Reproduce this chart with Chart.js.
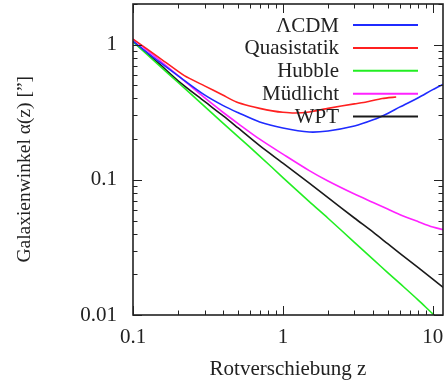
<!DOCTYPE html>
<html>
<head>
<meta charset="utf-8">
<script src="https://cdn.jsdelivr.net/npm/chart.js@4/dist/chart.umd.min.js"></script>
<style>
html,body{margin:0;padding:0;background:#fff;}
canvas{display:block;}
</style>
</head>
<body>
<canvas id="c" width="446" height="385"></canvas>
<script>
// ---- data ----
const zGrid = [0.1, 0.15, 0.2, 0.3, 0.4, 0.5, 0.7, 1, 1.5, 2, 3, 4, 5, 6, 8, 10, 12];
const lcdm     = [1.06, 0.745, 0.588, 0.425, 0.354, 0.315, 0.268, 0.242, 0.226, 0.23, 0.25, 0.278, 0.31, 0.345, 0.405, 0.465, 0.515];
const hubble   = [1.05, 0.70, 0.525, 0.35, 0.262, 0.21, 0.15, 0.104, 0.069, 0.052, 0.0345, 0.0258, 0.0206, 0.0172, 0.0129, 0.0102, 0.0085];
const muedlicht= [1.10, 0.77, 0.59, 0.405, 0.315, 0.262, 0.20, 0.155, 0.117, 0.098, 0.0785, 0.068, 0.0608, 0.0555, 0.049, 0.0447, 0.0426];
const wpt      = [1.06, 0.72, 0.54, 0.38, 0.297, 0.243, 0.179, 0.133, 0.0945, 0.0738, 0.0522, 0.041, 0.0337, 0.0287, 0.0224, 0.0184, 0.0157];
const zQuasi   = [0.1, 0.15, 0.22, 0.3, 0.4, 0.49, 0.6, 0.7, 0.85, 1.0, 1.2, 1.5, 2.0, 3.0, 3.6, 4.6, 5.7];
const quasi    = [1.10, 0.80, 0.59, 0.496, 0.422, 0.377, 0.352, 0.338, 0.324, 0.316, 0.312, 0.318, 0.338, 0.365, 0.377, 0.40, 0.41];
const seriesNames = ['ΛCDM', 'Quasistatik', 'Hubble', 'Müdlicht', 'WPT'];
const xTickValues = [0.1, 1, 10];
const yTickValues = [0.01, 0.1, 1];
const xLabel = 'Rotverschiebung z';
const yLabel = 'Galaxienwinkel α(z) [”]';

const colors = ['#1f2bff', '#ff2020', '#22ee22', '#ff22ff', '#1a1a1a'];
const FONT = "'Liberation Serif', 'Times New Roman', serif";
const TXT = '#222';

const pts = (zs, vs) => zs.map((z, i) => ({x: z, y: vs[i]}));
const seriesData = [pts(zGrid, lcdm), pts(zQuasi, quasi), pts(zGrid, hubble), pts(zGrid, muedlicht), pts(zGrid, wpt)];

const datasets = seriesNames.map((n, i) => ({
  label: n,
  data: seriesData[i],
  borderColor: colors[i],
  backgroundColor: colors[i],
  borderWidth: 1.6,
  pointRadius: 0,
  fill: false,
  tension: i === 1 ? 0.2 : 0.3
}));

function minorTicks(scale) {
  const out = [];
  for (let e = -3; e <= 2; e++) {
    const d = Math.pow(10, e);
    for (let m = 1; m <= 9; m++) {
      const v = m * d;
      if (v >= scale.min * 0.9999 && v <= scale.max * 1.0001) out.push({v: v, major: m === 1});
    }
  }
  return out;
}

const framePlugin = {
  id: 'frame',
  afterDatasetsDraw(chart) {
    const {ctx, chartArea: a, scales} = chart;
    const x = scales.x, y = scales.y;
    ctx.save();
    ctx.strokeStyle = '#222';
    ctx.lineWidth = 1;
    ctx.beginPath();
    minorTicks(x).forEach(t => {
      const px = Math.round(x.getPixelForValue(t.v)) + 0.5;
      const len = t.major ? 9 : 4.5;
      ctx.moveTo(px, a.bottom); ctx.lineTo(px, a.bottom - len);
      ctx.moveTo(px, a.top); ctx.lineTo(px, a.top + len);
    });
    minorTicks(y).forEach(t => {
      const py = Math.round(y.getPixelForValue(t.v)) + 0.5;
      const len = t.major ? 9 : 4.5;
      ctx.moveTo(a.left, py); ctx.lineTo(a.left + len, py);
      ctx.moveTo(a.right, py); ctx.lineTo(a.right - len, py);
    });
    ctx.stroke();
    ctx.lineWidth = 1.6;
    ctx.strokeRect(a.left, a.top, a.right - a.left, a.bottom - a.top);

    // key inside plot: text right-aligned, sample line on the right
    ctx.font = '21px ' + FONT;
    ctx.textAlign = 'right';
    ctx.textBaseline = 'middle';
    chart.data.datasets.forEach((ds, i) => {
      const yy = a.top + 21 + i * 22.9;
      ctx.fillStyle = TXT;
      ctx.fillText(ds.label, a.right - 104, yy + 1);
      ctx.strokeStyle = ds.borderColor;
      ctx.lineWidth = 2;
      ctx.beginPath();
      ctx.moveTo(a.right - 90, yy);
      ctx.lineTo(a.right - 25, yy);
      ctx.stroke();
    });
    ctx.restore();
  }
};

function zeroPad(s) { s.paddingTop = 0; s.paddingBottom = 0; s.paddingLeft = 0; s.paddingRight = 0; }

new Chart(document.getElementById('c'), {
  type: 'line',
  data: {datasets: datasets},
  plugins: [framePlugin],
  options: {
    responsive: false,
    animation: false,
    devicePixelRatio: 1,
    layout: {padding: {top: 4, right: 3, left: 0, bottom: 0}},
    plugins: {legend: {display: false}, tooltip: {enabled: false}},
    scales: {
      x: {
        type: 'logarithmic',
        min: 0.1, max: 11.7,
        afterBuildTicks: s => { s.ticks = xTickValues.map(v => ({value: v})); },
        afterFit: s => { s.height = 70; zeroPad(s); },
        grid: {display: false, drawTicks: false},
        border: {display: false},
        ticks: {autoSkip: false, maxRotation: 0, padding: 10, color: TXT,
          font: {family: FONT, size: 21}, callback: v => String(v)},
        title: {display: true, text: xLabel, color: TXT, font: {family: FONT, size: 21},
          padding: {top: 0, bottom: 3}}
      },
      y: {
        type: 'logarithmic',
        min: 0.01, max: 2,
        afterBuildTicks: s => { s.ticks = yTickValues.map(v => ({value: v})); },
        afterFit: s => { s.width = 133; zeroPad(s); },
        grid: {display: false, drawTicks: false},
        border: {display: false},
        ticks: {autoSkip: false, padding: 16, color: TXT,
          font: {family: FONT, size: 21}, callback: v => String(v)},
        title: {display: true, text: yLabel + '\u00a0\u00a0\u00a0\u00a0', color: TXT, font: {family: FONT, size: 19.5},
          padding: {top: 13, bottom: 0}}
      }
    }
  }
});
</script>
</body>
</html>
